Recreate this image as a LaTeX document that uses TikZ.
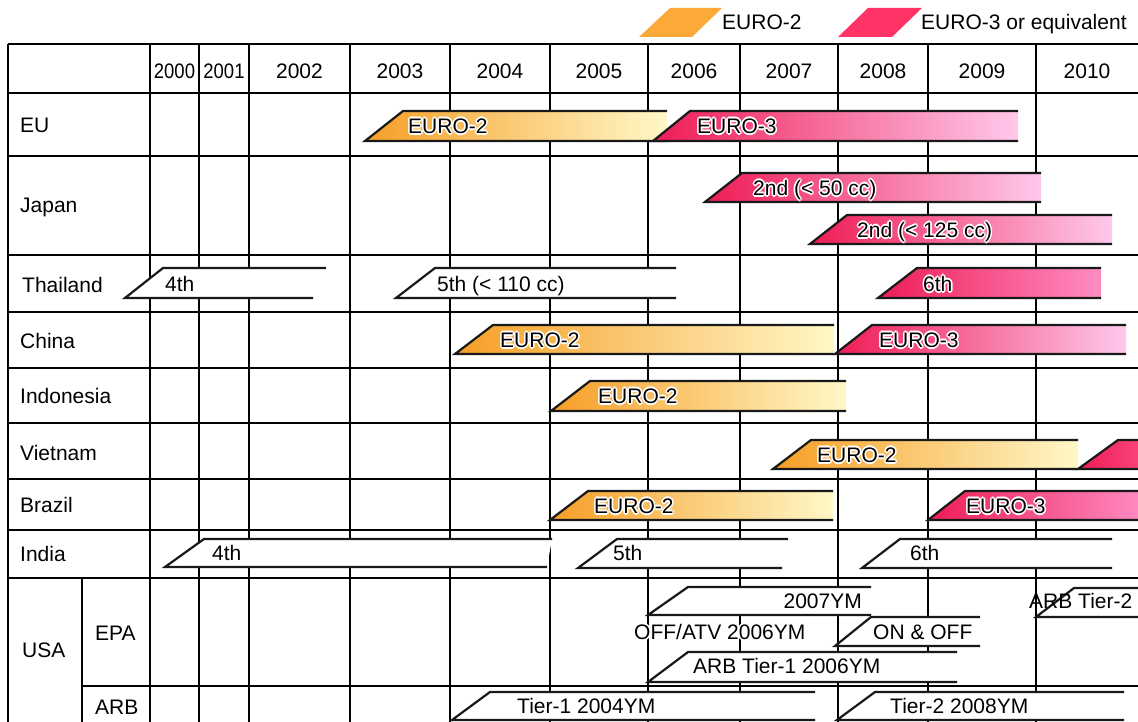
\documentclass[tikz,border=0pt]{standalone}
\usepackage{fontspec}
\setmainfont{Liberation Sans}
\definecolor{orA}{RGB}{246,158,38}
\definecolor{orB}{RGB}{255,248,200}
\definecolor{pkA}{RGB}{238,28,85}
\definecolor{pkB}{RGB}{255,200,235}
\definecolor{pkM}{RGB}{255,140,195}
\definecolor{pkN}{RGB}{250,70,125}
\definecolor{legor}{RGB}{251,170,58}
\definecolor{legpk}{RGB}{255,51,102}
\newcommand\hlcopy[3]{\rlap{\hspace*{#1}\raisebox{#2}{\color{white}#3}}}
\newcommand\halo[1]{\hlcopy{1.6pt}{0pt}{#1}\hlcopy{-1.6pt}{0pt}{#1}\hlcopy{0pt}{1.6pt}{#1}\hlcopy{0pt}{-1.6pt}{#1}\hlcopy{1.15pt}{1.15pt}{#1}\hlcopy{-1.15pt}{1.15pt}{#1}\hlcopy{1.15pt}{-1.15pt}{#1}\hlcopy{-1.15pt}{-1.15pt}{#1}#1}
\tikzset{
  gridline/.style={line width=2.4pt, black},
  barline/.style={line width=2.2pt, black!90, line join=miter},
  lbl/.style={anchor=west, inner sep=0pt, text height=15pt, text depth=0pt, font=\fontsize{21}{25}\selectfont},
  yr/.style={lbl, anchor=center},
}
% coloured bar: xbl xtl ytop ybot xr leftcolor rightcolor
\newcommand\cbar[7]{%
  \shade[left color=#6, right color=#7] (#1,#4) -- (#2,#3) -- (#5,#3) -- (#5,#4) -- cycle;
  \draw[barline] (#5,#3) -- (#2,#3) -- (#1,#4) -- (#5,#4);}
% white bar: xbl xtl ytop ybot xtr xbr
\newcommand\wbar[6]{%
  \fill[white] (#1,#4) -- (#2,#3) -- (#5,#3) -- (#6,#4) -- cycle;
  \draw[barline] (#5,#3) -- (#2,#3) -- (#1,#4) -- (#6,#4);}
\begin{document}
\begin{tikzpicture}[x=1pt, y=-1pt]
\useasboundingbox (0,0) rectangle (1138,722);
\clip (0,0) rectangle (1138,722);
% legend
\fill[legor] (639,37) -- (670,8) -- (722,8) -- (692,37) -- cycle;
\node[lbl] (legA) at (722,22) {EURO-2};
\fill[legpk] (838,37) -- (868,8) -- (922,8) -- (892,37) -- cycle;
\node[lbl] (legB) at (921,22) {EURO-3 or equivalent};
% grid
\foreach \y in {44,93,156,255,312,368,423,479,530,578}
  \draw[gridline] (8,\y) -- (1142,\y);
\draw[gridline] (82,686) -- (1142,686);
\foreach \x in {8,150,199,249,350,450,550,648,740,838,928,1036}
  \draw[gridline] (\x,44) -- (\x,726);
\draw[gridline] (82,578) -- (82,726);
% header
\node[yr] (y2000) at (174.5,71) {\scalebox{0.88}[1]{2000}};
\node[yr] (y2001) at (224,71) {\scalebox{0.88}[1]{2001}};
\node[yr] (y2002) at (299.5,71) {2002};
\node[yr] (y2003) at (400,71) {2003};
\node[yr] (y2004) at (500,71) {2004};
\node[yr] (y2005) at (599,71) {2005};
\node[yr] (y2006) at (694,71) {2006};
\node[yr] (y2007) at (789,71) {2007};
\node[yr] (y2008) at (883,71) {2008};
\node[yr] (y2009) at (982,71) {2009};
\node[yr] (y2010) at (1087,71) {2010};
% row labels
\node[lbl] (rEU) at (20,125) {EU};
\node[lbl] (rJP) at (20,205) {Japan};
\node[lbl] (rTH) at (22,285) {Thailand};
\node[lbl] (rCN) at (20,341) {China};
\node[lbl] (rID) at (20,396) {Indonesia};
\node[lbl] (rVN) at (20,453) {Vietnam};
\node[lbl] (rBR) at (20,505) {Brazil};
\node[lbl] (rIN) at (20,554) {India};
\node[lbl] (rUS) at (22,650) {USA};
\node[lbl] (rEPA) at (95,633) {EPA};
\node[lbl] (rARB) at (95,707) {ARB};
% EU
\cbar{365}{403}{111}{141}{667}{orA}{orB}
\cbar{653}{690}{111}{141}{1018}{pkA}{pkB}
\node[lbl] (euA) at (408,126) {\halo{EURO-2}};
\node[lbl] (euB) at (697,126) {\halo{EURO-3}};
% Japan
\cbar{705}{742}{173}{202}{1041}{pkA}{pkB}
\cbar{810}{847}{215}{244}{1112}{pkA}{pkB}
\node[lbl] (jpA) at (753,188) {\halo{2nd (< 50 cc)}};
\node[lbl] (jpB) at (857,230) {\halo{2nd (< 125 cc)}};
% Thailand
\wbar{125}{163}{268}{298}{326}{313}
\node[lbl] (thA) at (165,284) {4th};
\wbar{396}{435}{268}{298}{676}{676}
\node[lbl] (thB) at (437,284) {5th (< 110 cc)};
\cbar{878}{917}{268}{298}{1101}{pkA}{pkM}
\node[lbl] (thC) at (923,284) {\halo{6th}};
% China
\cbar{455}{493}{325}{354}{834}{orA}{orB}
\cbar{835}{872}{325}{354}{1126}{pkA}{pkB}
\node[lbl] (cnA) at (500,340) {\halo{EURO-2}};
\node[lbl] (cnB) at (879,340) {\halo{EURO-3}};
% Indonesia
\cbar{551}{590}{381}{411}{846}{orA}{orB}
\node[lbl] (idA) at (598,396) {\halo{EURO-2}};
% Vietnam
\cbar{773}{811}{440}{469}{1078}{orA}{orB}
\cbar{1078}{1118}{440}{469}{1145}{pkA}{pkN}
\node[lbl] (vnA) at (817,455) {\halo{EURO-2}};
% Brazil
\cbar{550}{588}{491}{520}{833}{orA}{orB}
\cbar{928}{965}{491}{520}{1145}{pkA}{pkM}
\node[lbl] (brA) at (594,506) {\halo{EURO-2}};
\node[lbl] (brB) at (966,506) {\halo{EURO-3}};
% India
\wbar{165}{204}{539}{567}{552}{547}
\node[lbl] (inA) at (212,553) {4th};
\wbar{578}{617}{539}{568}{788}{782}
\node[lbl] (inB) at (613,553) {5th};
\wbar{862}{900}{539}{568}{1112}{1112}
\node[lbl] (inC) at (910,553) {6th};
% USA EPA
\wbar{648}{688}{587}{615}{871}{871}
\node[lbl, anchor=east] (us1) at (862,601) {2007YM};
\wbar{835}{871}{617}{646}{980}{980}
\node[lbl] (us2) at (873,632) {ON \& OFF};
\node[lbl] (us3) at (634,632) {\halo{OFF/ATV 2006YM}};
\wbar{648}{688}{652}{682}{957}{957}
\node[lbl] (us4) at (693,666) {ARB Tier-1 2006YM};
\wbar{1036}{1074}{588}{617}{1145}{1145}
\node[lbl] (us5) at (1029,601) {ARB Tier-2};
% USA ARB
\wbar{452}{490}{692}{720}{815}{815}
\node[lbl] (us6) at (517,706) {Tier-1 2004YM};
\wbar{837}{875}{692}{720}{1124}{1124}
\node[lbl] (us7) at (890,706) {Tier-2 2008YM};
\end{tikzpicture}
\end{document}
